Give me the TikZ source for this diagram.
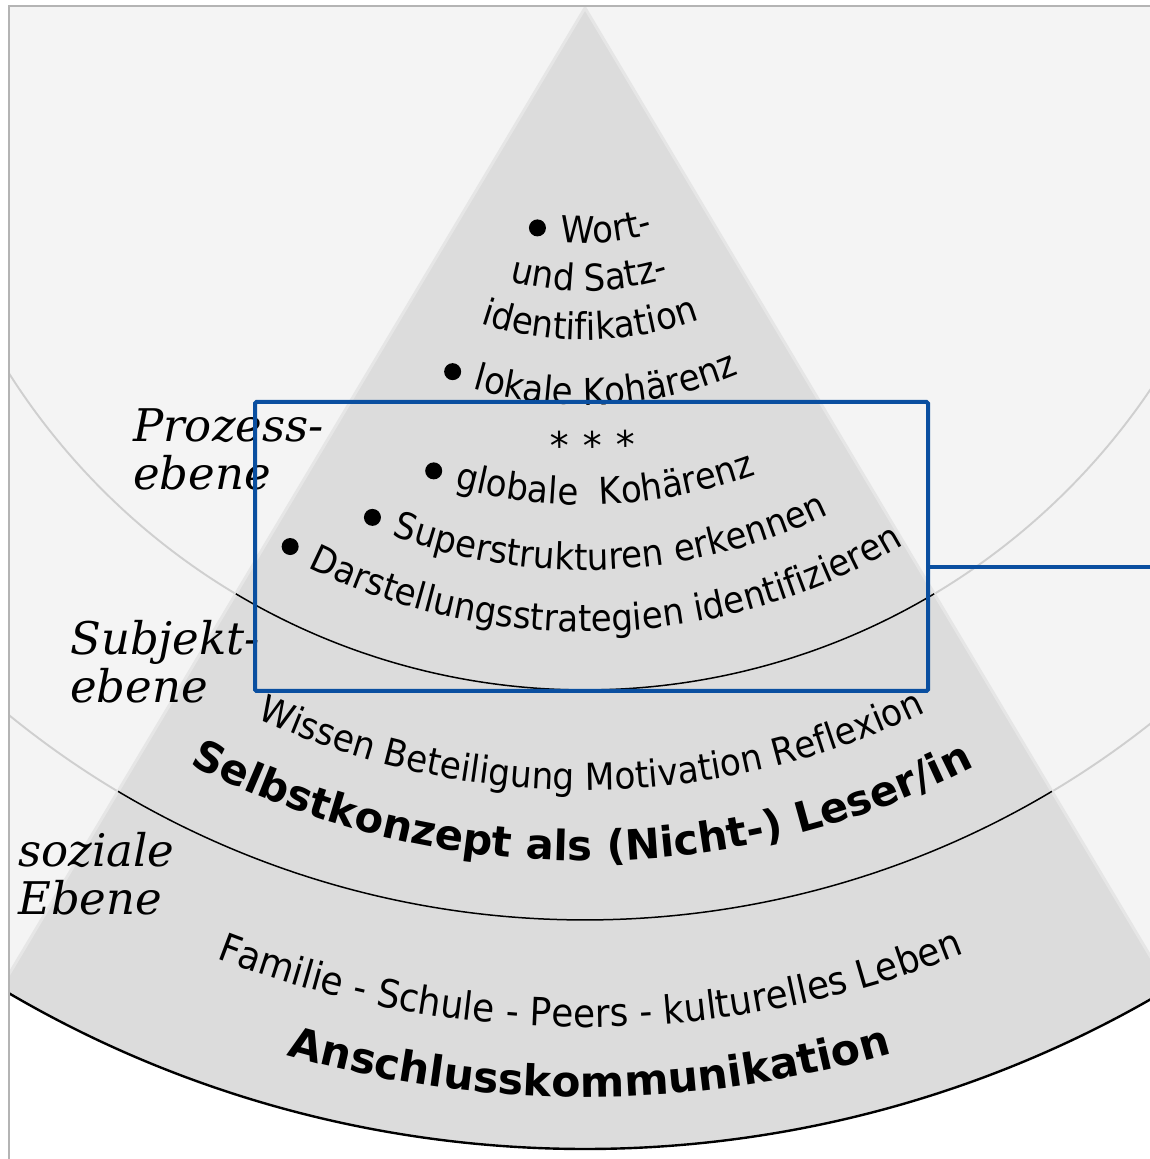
\documentclass[tikz,border=0pt]{standalone}
\usepackage{fontspec}
\setmainfont{DejaVu Sans}
\newfontfamily\regfont{DejaVu Sans}[FakeStretch=0.92]
\newfontfamily\lblfont{DejaVu Serif}
\usetikzlibrary{decorations.text}
\definecolor{bgc}{HTML}{F4F4F4}
\definecolor{conec}{HTML}{DCDCDC}
\definecolor{edgec}{HTML}{E6E6E6}
\definecolor{arcgray}{HTML}{CFCFCF}
\definecolor{framec}{HTML}{B4B4B4}
\definecolor{bluec}{HTML}{0A4FA0}
\newcommand\curvtext[4]{%
  \path[decorate, decoration={text along path, text align=left, text={|#3|#4}}]
    (C) ++(#1:#2) arc[start angle=#1, end angle=335, radius=#2];}
\newcommand\reg{\regfont\fontsize{37}{42}\selectfont}
\begin{document}
\begin{tikzpicture}[x=1pt,y=1pt,
  lbl/.style={font=\lblfont\itshape\fontsize{45}{50}\selectfont, inner sep=0pt, anchor=base west},
  bul/.style={fill=black},
  blackarc/.style={draw=black, line width=1.5pt},
  grayarc/.style={draw=arcgray, line width=1.9pt}]
\useasboundingbox (0,0) rectangle (1150,1159);
\fill[white] (0,0) rectangle (1150,1159);
\coordinate (C) at (585,1151);
\begin{scope}
  \clip (9,0) rectangle (1150,1153);
  \fill[bgc] (C) circle[radius=1141];
  \draw[grayarc] (C) circle[radius=682];
  \draw[grayarc] (C) circle[radius=912];
  \fill[conec] (C) -- ++(239.2:1141) arc[start angle=239.2, end angle=300.8, radius=1141] -- cycle;
  \draw[edgec, line width=3pt] (C) ++(239.2:1141) -- (C) -- ++(300.8:1141);
  \draw[blackarc] (C) ++(239.2:682) arc[start angle=239.2, end angle=300.8, radius=682];
  \draw[blackarc] (C) ++(239.2:912) arc[start angle=239.2, end angle=300.8, radius=912];
  \draw[black, line width=2.4pt] (C) ++(225:1141) arc[start angle=225, end angle=315, radius=1141];
\end{scope}
\draw[framec, line width=2pt] (9,0) -- (9,1153) -- (1150,1153);

% process level
\curvtext{263.9}{235}{\reg}{Wort-}
\curvtext{254.6}{283}{\reg}{und Satz-}
\curvtext{251.6}{332}{\reg}{identifikation}
\curvtext{253.6}{397}{\reg}{lokale Kohärenz}
\node[font=\fontsize{38}{40}\selectfont, rotate=1, inner sep=0pt] (stars) at (593,714) {*\hspace{14pt}*\hspace{14pt}*};
\curvtext{254.8}{497}{\reg}{globale}
\curvtext{271.7}{497}{\reg}{Kohärenz}
\curvtext{249.9}{562}{\reg}{Superstrukturen erkennen}
\curvtext{243.6}{624}{\reg}{Darstellungsstrategien identifizieren}
\fill[bul] (C) ++(257.8:225) circle[radius=8.5];
\fill[bul] (C) ++(250.0:387) circle[radius=8.5];
\fill[bul] (C) ++(251.9:487) circle[radius=8.5];
\fill[bul] (C) ++(247.35:552) circle[radius=8.5];
\fill[bul] (C) ++(241.3:614) circle[radius=8.5];

% subject level
\curvtext{245.2}{782}{\regfont\fontsize{37.3}{42}\selectfont}{Wissen Beteiligung Motivation Reflexion}
\curvtext{242.4}{853}{\fontsize{41.8}{48}\selectfont\bfseries}{Selbstkonzept als (Nicht-) Leser/in}

% social level
\curvtext{248.8}{1019}{\regfont\fontsize{39}{44}\selectfont}{Familie - Schule - Peers - kulturelles Leben}
\curvtext{254.1}{1089}{\fontsize{42.6}{48}\selectfont\bfseries}{Anschlusskommunikation}

% level labels
\node[lbl] (p1) at (133,717) {Prozess-};
\node[lbl] (p2) at (133,669) {ebene};
\node[lbl] (s1) at (70,504) {Subjekt-};
\node[lbl] (s2) at (70,456) {ebene};
\node[lbl] (z1) at (18,292) {soziale};
\node[lbl] (z2) at (18,244) {Ebene};

% blue frame and connector
\node[draw=bluec, line width=4pt, rounded corners=1.5pt, minimum width=673pt, minimum height=289pt, inner sep=0pt, outer sep=0pt] (box) at (591.5,612.5) {};
\coordinate (rend) at (1150,592);
\draw[bluec, line width=4pt] (box.east |- rend) -- (rend);
\end{tikzpicture}
\end{document}
